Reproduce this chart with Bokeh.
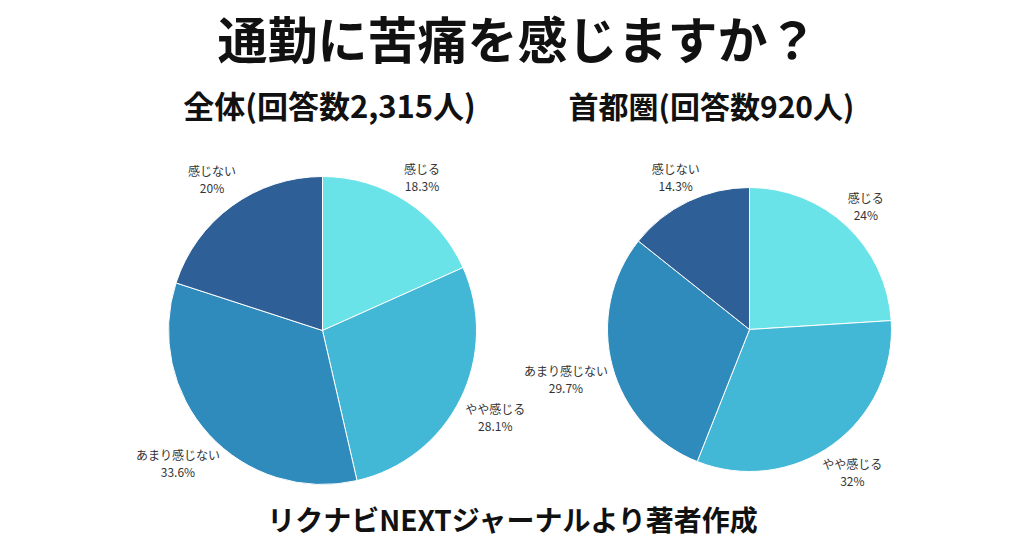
import numpy as np
from bokeh.plotting import figure
from bokeh.models import Range1d
from bokeh.core.properties import value
from bokeh.embed import file_html
from bokeh.resources import INLINE

# ---- data ----
title = "通勤に苦痛を感じますか？"
subtitles = ["全体(回答数2,315人)", "首都圏(回答数920人)"]
footer = "リクナビNEXTジャーナルより著者作成"
categories = ["感じる", "やや感じる", "あまり感じない", "感じない"]
pct_labels_all = ["18.3%", "28.1%", "33.6%", "20%"]
values_all = [18.3, 28.1, 33.6, 20.0]
pct_labels_metro = ["24%", "32%", "29.7%", "14.3%"]
values_metro = [24.0, 32.0, 29.7, 14.3]

colors = ["#69E3E7", "#43B7D6", "#2E8BBB", "#2E5F96"]

W, H = 1024, 538
FONT = "Noto Sans CJK JP"

p = figure(width=W, height=H, output_backend="svg", toolbar_location=None,
           x_range=Range1d(0, W), y_range=Range1d(0, H),
           min_border=0)
p.axis.visible = False
p.grid.visible = False
p.outline_line_color = None
p.background_fill_color = "white"
p.border_fill_color = "white"

def Y(py):
    return H - py

def draw_pie(cx, cy, r, vals, pcts, label_pad):
    v = np.array(vals, dtype=float)
    frac = v / v.sum()
    cum = np.concatenate([[0], np.cumsum(frac)])
    start = np.pi / 2 - cum[:-1] * 2 * np.pi
    end = np.pi / 2 - cum[1:] * 2 * np.pi
    p.wedge(x=[cx] * len(v), y=[Y(cy)] * len(v), radius=r,
            start_angle=start, end_angle=end, direction="clock",
            fill_color=colors, line_color="white", line_width=1)
    mid = (cum[:-1] + cum[1:]) / 2 * 2 * np.pi  # clockwise from top
    for i in range(len(v)):
        d = r + label_pad[i]
        lx = cx + d * np.sin(mid[i])
        ly = cy - d * np.cos(mid[i])
        p.text(x=[lx], y=[Y(ly - 8)], text=[categories[i]],
               text_font=value(FONT), text_font_size="12px",
               text_color="#333333", text_align="center", text_baseline="middle")
        p.text(x=[lx], y=[Y(ly + 9)], text=[pcts[i]],
               text_font=value(FONT), text_font_size="12px",
               text_color="#333333", text_align="center", text_baseline="middle")

draw_pie(322, 330, 154, values_all, pct_labels_all, [29, 39, 42, 34])
draw_pie(749, 329, 142, values_metro, pct_labels_metro, [28, 33, 48, 28])

p.text(x=[517], y=[Y(36)], text=[title], text_font=value(FONT),
       text_font_size="50px", text_font_style="bold", text_color="#111111",
       text_align="center", text_baseline="middle")
p.text(x=[329], y=[Y(104)], text=[subtitles[0]], text_font=value(FONT),
       text_font_size="31px", text_font_style="bold", text_color="#111111",
       text_align="center", text_baseline="middle")
p.text(x=[711], y=[Y(104)], text=[subtitles[1]], text_font=value(FONT),
       text_font_size="30px", text_font_style="bold", text_color="#111111",
       text_align="center", text_baseline="middle")
p.text(x=[513], y=[Y(518)], text=[footer], text_font=value(FONT),
       text_font_size="28px", text_font_style="bold", text_color="#111111",
       text_align="center", text_baseline="middle")

open("out.html", "w").write(file_html(p, INLINE))
